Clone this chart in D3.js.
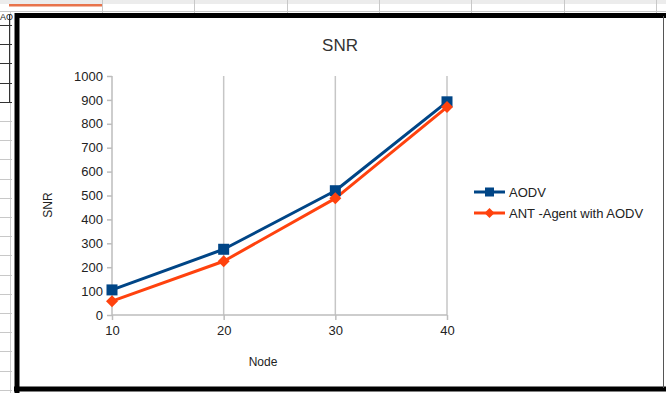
<!DOCTYPE html>
<html>
<head>
<meta charset="utf-8">
<script src="https://cdn.jsdelivr.net/npm/d3@7"></script>
<style>
  html, body { margin: 0; padding: 0; background: #ffffff; }
  svg { display: block; }
  text { font-family: "Liberation Sans", Arial, sans-serif; }
</style>
</head>
<body>
<svg id="chart" width="666" height="393"></svg>
<script>
// Data
const nodes = [10, 20, 30, 40];
const aodv = [105, 275, 520, 892];
const antAgent = [58, 225, 488, 870];
const seriesNames = ["AODV", "ANT -Agent with AODV"];
const yTicks = [0, 100, 200, 300, 400, 500, 600, 700, 800, 900, 1000];

const colors = ["#004586", "#ff420e"];

const svg = d3.select("#chart");

// Spreadsheet backdrop: column lines at top, row ticks down the left edge
const back = svg.append("g");
back.append("rect").attr("x", 0).attr("y", 0).attr("width", 666).attr("height", 4).attr("fill", "#ececec");
back.append("line").attr("x1", 0).attr("x2", 666).attr("y1", 11.5).attr("y2", 11.5).attr("stroke", "#c8c8c8");
[102, 194, 287, 379, 471, 564, 656].forEach(x => {
  back.append("line").attr("x1", x + 0.5).attr("x2", x + 0.5).attr("y1", 0).attr("y2", 14).attr("stroke", "#c8c8c8");
});
back.append("rect").attr("x", 9).attr("y", 4).attr("width", 93).attr("height", 2.5).attr("fill", "#e8734b");
back.append("line").attr("x1", 10.5).attr("x2", 10.5).attr("y1", 12).attr("y2", 393).attr("stroke", "#cfcfcf");
d3.range(25, 393, 19.2).forEach((y, i) => {
  back.append("line").attr("x1", 0).attr("x2", 12).attr("y1", Math.round(y) + 0.5).attr("y2", Math.round(y) + 0.5)
    .attr("stroke", y < 105 ? "#333333" : "#c8c8c8");
});
back.append("line").attr("x1", 9.5).attr("x2", 9.5).attr("y1", 15).attr("y2", 103).attr("stroke", "#333333");
back.append("text").attr("x", 0).attr("y", 20).attr("font-size", 9).attr("fill", "#222").text("AO");

// Chart frame
svg.append("rect").attr("x", 17).attr("y", 15).attr("width", 646).attr("height", 373)
  .attr("fill", "#ffffff").attr("stroke", "none");
svg.append("path").attr("d", "M17,393 V15.5 H666").attr("fill", "none").attr("stroke", "#000").attr("stroke-width", 5);
svg.append("path").attr("d", "M14,389 H666").attr("fill", "none").attr("stroke", "#000").attr("stroke-width", 5);
svg.append("line").attr("x1", 663.5).attr("x2", 663.5).attr("y1", 16).attr("y2", 388).attr("stroke", "#555").attr("stroke-width", 1);

// Scales
const x = d3.scaleLinear().domain([10, 40]).range([112, 447]);
const y = d3.scaleLinear().domain([0, 1000]).range([315, 76]);

// Title
svg.append("text").attr("x", 340).attr("y", 51).attr("text-anchor", "middle")
  .attr("font-size", 17).attr("fill", "#333").text("SNR");

// Vertical gridlines
svg.append("g").selectAll("line").data(nodes.slice(1)).join("line")
  .attr("x1", d => x(d)).attr("x2", d => x(d))
  .attr("y1", y(1000)).attr("y2", y(0))
  .attr("stroke", "#c6c6c6").attr("stroke-width", 1.5);

// Axes
const axisColor = "#bdbdbd";
const yAxis = svg.append("g").attr("transform", `translate(${x(10)},0)`)
  .call(d3.axisLeft(y).tickValues(yTicks).tickSize(5).tickPadding(4).tickFormat(d3.format("d")));
const xAxis = svg.append("g").attr("transform", `translate(0,${y(0)})`)
  .call(d3.axisBottom(x).tickValues(nodes).tickSize(5).tickPadding(6).tickFormat(d3.format("d")));
[yAxis, xAxis].forEach(a => {
  a.select(".domain").attr("stroke", axisColor).attr("stroke-width", 1.5);
  a.selectAll(".tick line").attr("stroke", axisColor).attr("stroke-width", 1.5);
  a.selectAll(".tick text").attr("font-size", 13).attr("fill", "#222")
    .attr("font-family", "'Liberation Sans', Arial, sans-serif");
});
xAxis.select(".domain").attr("d", `M${x(10)},0H${x(40)}`);
yAxis.select(".domain").attr("d", `M0,${y(1000)}V${y(0)}`);

// Axis titles
svg.append("text").attr("x", 263).attr("y", 366).attr("text-anchor", "middle")
  .attr("font-size", 12).attr("fill", "#222").text("Node");
svg.append("text").attr("transform", "translate(52,205) rotate(-90)").attr("text-anchor", "middle")
  .attr("font-size", 12).attr("fill", "#222").text("SNR");

// Series
const line = d3.line().x(d => x(d[0])).y(d => y(d[1]));
const series = [aodv, antAgent].map(vals => nodes.map((n, i) => [n, vals[i]]));

series.forEach((pts, si) => {
  svg.append("path").datum(pts).attr("d", line)
    .attr("fill", "none").attr("stroke", colors[si]).attr("stroke-width", 3).attr("stroke-linejoin", "round");
});
const sq = 11, dm = 6;
function marker(g, si, cx, cy) {
  if (si === 0) {
    g.append("rect").attr("x", cx - sq / 2).attr("y", cy - sq / 2).attr("width", sq).attr("height", sq).attr("fill", colors[0]);
  } else {
    g.append("path").attr("d", `M${cx},${cy - dm}L${cx + dm},${cy}L${cx},${cy + dm}L${cx - dm},${cy}Z`).attr("fill", colors[1]);
  }
}
series.forEach((pts, si) => {
  const g = svg.append("g");
  pts.forEach(p => marker(g, si, x(p[0]), y(p[1])));
});

// Legend
const legend = svg.append("g");
seriesNames.forEach((name, i) => {
  const ly = 192 + i * 21;
  legend.append("line").attr("x1", 474).attr("x2", 505).attr("y1", ly).attr("y2", ly)
    .attr("stroke", colors[i]).attr("stroke-width", 3);
  if (i === 0) {
    legend.append("rect").attr("x", 485).attr("y", ly - 4.5).attr("width", 9).attr("height", 9).attr("fill", colors[0]);
  } else {
    legend.append("path").attr("d", `M489.5,${ly - 5}L494.5,${ly}L489.5,${ly + 5}L484.5,${ly}Z`).attr("fill", colors[1]);
  }
  legend.append("text").attr("x", 509).attr("y", ly + 5).attr("font-size", 13).attr("fill", "#222").text(name);
});
</script>
</body>
</html>
